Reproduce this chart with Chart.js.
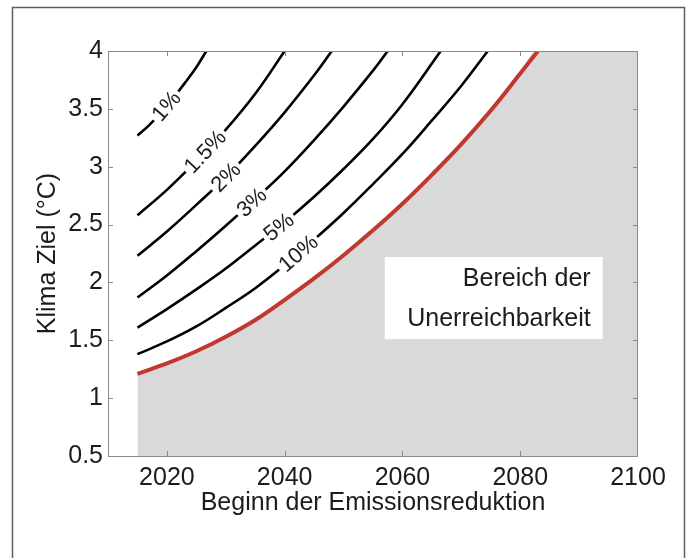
<!DOCTYPE html>
<html>
<head>
<meta charset="utf-8">
<script src="https://cdn.jsdelivr.net/npm/chart.js@4.4.0/dist/chart.umd.min.js"></script>
<style>
  html, body { margin: 0; padding: 0; background: #fff; }
  canvas { display: block; }
</style>
</head>
<body>
<canvas id="klima" width="693" height="558"></canvas>
<script>
// ---- Achsen ----
const xTicks = [2020, 2040, 2060, 2080, 2100];
const yTicks = [0.5, 1, 1.5, 2, 2.5, 3, 3.5, 4];

// ---- Grenze der Erreichbarkeit (rot) ----
const yearsRed = [2015, 2020, 2025, 2030, 2035, 2040, 2045, 2050, 2055, 2060, 2065, 2070, 2075, 2080, 2083];
const zielRed  = [1.21, 1.30, 1.405, 1.53, 1.675, 1.85, 2.035, 2.235, 2.45, 2.68, 2.93, 3.195, 3.485, 3.805, 4.0];
// Grauer Bereich: rote Grenze, danach oberer Rand bis 2100
const yearsGrey = yearsRed.concat([2100]);
const zielGrey  = zielRed.concat([4.0]);

// ---- Konturlinien (jaehrliche Reduktionsrate) ----
const years1  = [2015, 2017, 2019, 2021, 2023, 2025, 2026.7];
const ziel1   = [3.27, 3.36, 3.47, 3.59, 3.72, 3.86, 4.0];
const years15 = [2015, 2020, 2025, 2030, 2035, 2040];
const ziel15  = [2.58, 2.80, 3.05, 3.32, 3.63, 4.0];
const years2  = [2015, 2020, 2025, 2030, 2035, 2040, 2045, 2048];
const ziel2   = [2.23, 2.44, 2.67, 2.91, 3.18, 3.47, 3.79, 4.0];
const years3  = [2015, 2020, 2025, 2030, 2035, 2040, 2045, 2050, 2055, 2057.5];
const ziel3   = [1.87, 2.06, 2.27, 2.49, 2.72, 2.96, 3.23, 3.52, 3.83, 4.0];
const years5  = [2015, 2020, 2025, 2030, 2035, 2040, 2045, 2050, 2055, 2060, 2066.5];
const ziel5   = [1.61, 1.77, 1.94, 2.12, 2.32, 2.52, 2.74, 2.98, 3.24, 3.54, 4.0];
const years10 = [2015, 2020, 2025, 2030, 2035, 2040, 2045, 2050, 2055, 2060, 2065, 2070, 2074.5];
const ziel10  = [1.38, 1.49, 1.62, 1.78, 1.95, 2.15, 2.37, 2.60, 2.85, 3.11, 3.40, 3.70, 4.0];

const contourNames = ['1%', '1.5%', '2%', '3%', '5%', '10%'];
const contourYears = [years1, years15, years2, years3, years5, years10];
const contourZiel  = [ziel1, ziel15, ziel2, ziel3, ziel5, ziel10];
const labelAt      = [2019.9, 2026.5, 2030.0, 2034.4, 2039.0, 2042.3];

const boxText = ['Bereich der', 'Unerreichbarkeit'];

const FONT = "'Liberation Sans', Arial, Helvetica, sans-serif";
const TEXT = '#1c1c1c';

function pts(xs, ys) {
  return xs.map(function (x, i) { return { x: x, y: ys[i] }; });
}

function interp(xs, ys, x) {
  for (var i = 1; i < xs.length; i++) {
    if (x <= xs[i]) {
      var t = (x - xs[i - 1]) / (xs[i] - xs[i - 1]);
      return ys[i - 1] + t * (ys[i] - ys[i - 1]);
    }
  }
  return ys[ys.length - 1];
}

var datasets = [];
contourNames.forEach(function (name, i) {
  datasets.push({
    label: name,
    data: pts(contourYears[i], contourZiel[i]),
    borderColor: '#000',
    borderWidth: 2.6,
    pointRadius: 0,
    fill: false,
    tension: 0.4,
    order: 1
  });
});
datasets.push({
  label: 'Grenze',
  data: pts(yearsRed, zielRed),
  borderColor: '#c0392e',
  borderWidth: 4,
  pointRadius: 0,
  fill: false,
  tension: 0.4,
  order: 2
});
datasets.push({
  label: 'Unerreichbar',
  data: pts(yearsGrey, zielGrey),
  borderWidth: 0,
  borderColor: 'rgba(0,0,0,0)',
  backgroundColor: '#d9d9d9',
  pointRadius: 0,
  fill: 'start',
  tension: 0.4,
  order: 3
});

// Rahmen, Achsenkasten, Striche nach innen, Konturbeschriftung, Textkasten
var decor = {
  id: 'decor',
  afterDatasetsDraw: function (chart) {
    var ctx = chart.ctx, a = chart.chartArea;
    var xs = chart.scales.x, ys = chart.scales.y;
    ctx.save();

    // Beschriftung der Konturlinien
    ctx.font = '22px ' + FONT;
    ctx.textAlign = 'center';
    ctx.textBaseline = 'middle';
    contourNames.forEach(function (name, i) {
      var yr = labelAt[i];
      var px = xs.getPixelForValue(yr);
      var py = ys.getPixelForValue(interp(contourYears[i], contourZiel[i], yr));
      var p0x = xs.getPixelForValue(yr - 1.5), p0y = ys.getPixelForValue(interp(contourYears[i], contourZiel[i], yr - 1.5));
      var p1x = xs.getPixelForValue(yr + 1.5), p1y = ys.getPixelForValue(interp(contourYears[i], contourZiel[i], yr + 1.5));
      var ang = Math.atan2(p1y - p0y, p1x - p0x);
      var w = ctx.measureText(name).width + 6;
      ctx.save();
      ctx.translate(px, py);
      ctx.rotate(ang);
      ctx.fillStyle = '#fff';
      ctx.fillRect(-w / 2, -8, w, 16);
      ctx.fillStyle = TEXT;
      ctx.fillText(name, 0, 1);
      ctx.restore();
    });

    // Textkasten im grauen Bereich
    var bx0 = xs.getPixelForValue(2057), bx1 = xs.getPixelForValue(2094);
    var by0 = ys.getPixelForValue(2.22), by1 = ys.getPixelForValue(1.51);
    ctx.fillStyle = '#fff';
    ctx.fillRect(bx0, by0, bx1 - bx0, by1 - by0);
    ctx.fillStyle = TEXT;
    ctx.font = '25px ' + FONT;
    ctx.textAlign = 'right';
    ctx.textBaseline = 'middle';
    ctx.fillText(boxText[0], bx1 - 12, ys.getPixelForValue(2.03));
    ctx.fillText(boxText[1], bx1 - 12, ys.getPixelForValue(1.685));

    // Achsenkasten
    ctx.strokeStyle = '#8a8a8a';
    ctx.lineWidth = 1;
    ctx.strokeRect(a.left + 0.5, a.top + 0.5, a.right - a.left - 1, a.bottom - a.top);

    // Striche nach innen
    ctx.beginPath();
    xTicks.forEach(function (v) {
      var x = Math.round(xs.getPixelForValue(v)) + 0.5;
      if (x < a.left + 2 || x > a.right - 2) return;
      ctx.moveTo(x, a.bottom); ctx.lineTo(x, a.bottom - 5);
      ctx.moveTo(x, a.top); ctx.lineTo(x, a.top + 5);
    });
    yTicks.forEach(function (v) {
      var y = Math.round(ys.getPixelForValue(v)) + 0.5;
      if (y < a.top + 2 || y > a.bottom - 2) return;
      ctx.moveTo(a.left, y); ctx.lineTo(a.left + 5, y);
      ctx.moveTo(a.right, y); ctx.lineTo(a.right - 5, y);
    });
    ctx.stroke();
    ctx.restore();
  },
  afterDraw: function (chart) {
    var ctx = chart.ctx;
    ctx.save();
    ctx.strokeStyle = '#5e5e5e';
    ctx.lineWidth = 1.5;
    ctx.strokeRect(12.5, 7.5, 672, 600);
    ctx.restore();
  }
};

new Chart(document.getElementById('klima'), {
  type: 'line',
  data: { datasets: datasets },
  plugins: [decor],
  options: {
    responsive: false,
    animation: false,
    layout: { padding: { top: 51, right: 55, left: 0, bottom: 0 } },
    plugins: { legend: { display: false }, tooltip: { enabled: false } },
    scales: {
      x: {
        type: 'linear',
        min: 2010,
        max: 2100,
        afterBuildTicks: function (s) { s.ticks = xTicks.map(function (v) { return { value: v }; }); },
        afterFit: function (s) { s.height = 102; },
        grid: { display: false, drawTicks: false },
        border: { display: false },
        ticks: {
          autoSkip: false, maxRotation: 0, padding: 7, color: TEXT,
          font: { family: FONT, size: 25, lineHeight: 1.2 },
          callback: function (v) { return String(v); }
        },
        title: {
          display: true, text: 'Beginn der Emissionsreduktion', color: TEXT,
          font: { family: FONT, size: 25, lineHeight: 1.2 },
          padding: { top: 0, bottom: 40 }
        }
      },
      y: {
        type: 'linear',
        min: 0.5,
        max: 4,
        afterBuildTicks: function (s) { s.ticks = yTicks.map(function (v) { return { value: v }; }); },
        afterFit: function (s) { s.width = 108; },
        grid: { display: false, drawTicks: false },
        border: { display: false },
        ticks: {
          autoSkip: false, padding: 5, color: TEXT,
          font: { family: FONT, size: 25, lineHeight: 1.2 },
          callback: function (v) { return String(v); }
        },
        title: {
          display: true, text: 'Klima Ziel (°C)', color: TEXT,
          font: { family: FONT, size: 25, lineHeight: 1.2 },
          padding: { top: 33, bottom: 0 }
        }
      }
    }
  }
});
</script>
</body>
</html>
